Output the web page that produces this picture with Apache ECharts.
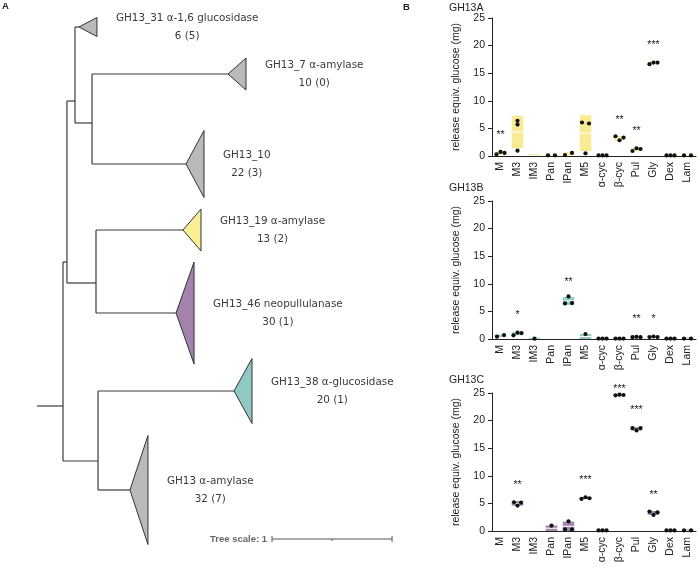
<!DOCTYPE html>
<html>
<head>
<meta charset="utf-8">
<style>
html, body { margin: 0; padding: 0; background: #fff; }
#main { width: 700px; height: 567px; }
</style>
<script src="https://cdn.jsdelivr.net/npm/echarts@6/dist/echarts.min.js"></script>
</head>
<body>
<div id="main"></div>
<script>
// ---- panel A: collapsed GH13 tree (depth in tree-scale units) ----
var treeNodes = [
    {id: 'root', parent: null, depth: 0, y: 406},
    {id: 'n1', parent: 'root', depth: 0.033, y: 262},
    {id: 'n2', parent: 'n1', depth: 0.1, y: 101},
    {id: 'n4', parent: 'n2', depth: 0.242, y: 123},
    {id: 'n3', parent: 'n1', depth: 0.275, y: 283},
    {id: 'n5', parent: 'root', depth: 0.292, y: 461}
];
var cladeNames = ['GH13_31 α-1,6 glucosidase', 'GH13_7 α-amylase', 'GH13_10', 'GH13_19 α-amylase',
    'GH13_46 neopullulanase', 'GH13_38 α-glucosidase', 'GH13 α-amylase'];
var cladeCounts = ['6 (5)', '10 (0)', '22 (3)', '13 (2)', '30 (1)', '20 (1)', '32 (7)'];
var cladeParent = ['n2', 'n4', 'n4', 'n3', 'n3', 'n5', 'n5'];
var cladeDepth = [0.133, 1.375, 1.025, 1.0, 0.942, 1.425, 0.558];
var cladeY = [27, 74, 164, 230, 313, 391, 490];
var cladeSpan = [19, 32, 67, 42, 102, 65, 109];
var rootStub = -0.217;
var treeScale = [1.742, 539];

// ---- panel B: released glucose equivalents (mg) ----
var categories = ['M', 'M3', 'IM3', 'Pan', 'IPan', 'M5', 'α-cyc', 'β-cyc', 'Pul', 'Gly', 'Dex', 'Lam'];
var yTicks = [0, 5, 10, 15, 20, 25];

var gh13aPoints = [[0.30, 0.73, 0.55], [6.37, 5.70, 0.97], [], [0.12, 0.12], [0.18, 0.55], [6.07, 5.89, 0.49],
    [0.1, 0.1, 0.1], [3.58, 2.85, 3.34], [0.91, 1.40, 1.27], [16.63, 16.93, 16.93], [0.1, 0.1, 0.1], [0.1, 0.1]];
var gh13aMean = [0.53, 4.35, 0.17, 0.12, 0.37, 4.15, 0.1, 3.26, 1.19, 16.83, 0.1, 0.1];
var gh13aSd = [0.22, 2.95, 0.04, 0, 0.26, 3.25, 0, 0.37, 0.25, 0.17, 0, 0];
var gh13aStars = [['M', '**', 4.2], ['β-cyc', '**', 7.0], ['Pul', '**', 4.9], ['Gly', '***', 20.6]];

var gh13bPoints = [[0.42, 0.72], [0.66, 1.14, 1.08], [0.06], [], [7.71, 6.45, 6.5], [0.9],
    [0.08, 0.08, 0.08], [0.08, 0.08, 0.08], [0.33, 0.4, 0.33], [0.35, 0.45, 0.35], [0.08, 0.08, 0.08], [0.08, 0.08]];
var gh13bMean = [0.57, 0.96, 0.06, 0, 6.89, 0.45, 0.08, 0.08, 0.35, 0.38, 0.08, 0.08];
var gh13bSd = [0.21, 0.26, 0, 0, 0.71, 0.45, 0, 0, 0.04, 0.06, 0, 0];
var gh13bStars = [['M3', '*', 4.8], ['IPan', '**', 10.7], ['Pul', '**', 4.0], ['Gly', '*', 4.0]];

var gh13cPoints = [[], [5.21, 4.6, 5.15], [], [0.97], [1.76, 0.3, 0.3], [5.81, 6.11, 5.93],
    [0.1, 0.1, 0.1], [24.58, 24.7, 24.64], [18.64, 18.22, 18.64], [3.51, 2.91, 3.39], [0.1, 0.1, 0.1], [0.1, 0.1]];
var gh13cMean = [0, 4.99, 0, 0.5, 0.85, 5.95, 0.1, 24.64, 18.5, 3.27, 0.1, 0.1];
var gh13cSd = [0, 0.4, 0, 0.5, 0.85, 0.15, 0, 0.06, 0.3, 0.35, 0, 0];
var gh13cStars = [['M3', '**', 8.7], ['M5', '***', 9.75], ['β-cyc', '***', 26.1], ['Pul', '***', 22.3], ['Gly', '**', 7.0]];

var panels = [
    {title: 'GH13A', points: gh13aPoints, mean: gh13aMean, sd: gh13aSd, stars: gh13aStars, color: '#f8eb94', top: 18, titleY: 8},
    {title: 'GH13B', points: gh13bPoints, mean: gh13bMean, sd: gh13bSd, stars: gh13bStars, color: '#8fcac4', top: 201, titleY: 188},
    {title: 'GH13C', points: gh13cPoints, mean: gh13cMean, sd: gh13cSd, stars: gh13cStars, color: '#a485b0', top: 393, titleY: 380}
];

var cladeColors = ['#bababa', '#bababa', '#bababa', '#fbef95', '#a382ac', '#90c9c3', '#bababa'];
var treeFont = '10.4px "DejaVu Sans"';
var plotFont = 'Liberation Sans';
var triWidth = 0.15;

var myChart = echarts.init(document.getElementById('main'));

var measure = document.createElement('canvas').getContext('2d');
measure.font = treeFont;

var nodeById = {};
treeNodes.forEach(function (n) { nodeById[n.id] = n; });
var treeItems = treeNodes.map(function (n) { return [n.depth, n.y, -1]; });
cladeNames.forEach(function (name, i) { treeItems.push([cladeDepth[i], cladeY[i], i]); });

function renderTree(params, api) {
    var k = api.value(2);
    var node = k < 0 ? treeNodes[params.dataIndex] : {parent: cladeParent[k], depth: cladeDepth[k], y: cladeY[k]};
    var lineStyle = {stroke: '#3b3b3b', lineWidth: 1.2};
    var kids = [];
    var p = api.coord([node.depth, node.y]);
    if (node.parent === null) {
        var s = api.coord([rootStub, node.y]);
        kids.push({type: 'line', shape: {x1: s[0], y1: s[1], x2: p[0], y2: p[1]}, style: lineStyle});
    } else {
        var par = nodeById[node.parent];
        var a = api.coord([par.depth, par.y]);
        var b = api.coord([par.depth, node.y]);
        kids.push({type: 'line', shape: {x1: a[0], y1: a[1], x2: b[0], y2: b[1]}, style: lineStyle});
        kids.push({type: 'line', shape: {x1: b[0], y1: b[1], x2: p[0], y2: p[1]}, style: lineStyle});
    }
    if (k >= 0) {
        var t1 = api.coord([node.depth + triWidth, node.y - cladeSpan[k] / 2]);
        var t2 = api.coord([node.depth + triWidth, node.y + cladeSpan[k] / 2]);
        kids.push({type: 'polygon', shape: {points: [p, t1, t2]},
            style: {fill: cladeColors[k], stroke: '#333', lineWidth: 1}});
        var w = measure.measureText(cladeNames[k]).width;
        var cx = t1[0] + 19 + w / 2;
        kids.push({type: 'text', style: {text: cladeNames[k], x: cx, y: p[1] - 9, align: 'center',
            verticalAlign: 'middle', font: treeFont, fill: '#3a3a3a'}});
        kids.push({type: 'text', style: {text: cladeCounts[k], x: cx, y: p[1] + 9, align: 'center',
            verticalAlign: 'middle', font: treeFont, fill: '#3a3a3a'}});
    }
    return {type: 'group', children: kids};
}

function renderScale(params, api) {
    var a = api.coord([api.value(0), api.value(1)]);
    var b = api.coord([api.value(0) + 1, api.value(1)]);
    var st = {stroke: '#555', lineWidth: 1};
    return {type: 'group', children: [
        {type: 'line', shape: {x1: a[0], y1: a[1], x2: b[0], y2: b[1]}, style: st},
        {type: 'line', shape: {x1: a[0], y1: a[1] - 3, x2: a[0], y2: a[1] + 3}, style: st},
        {type: 'line', shape: {x1: b[0], y1: b[1] - 3, x2: b[0], y2: b[1] + 3}, style: st},
        {type: 'line', shape: {x1: (a[0] + b[0]) / 2, y1: a[1], x2: (a[0] + b[0]) / 2, y2: a[1] + 2}, style: st},
        {type: 'text', style: {text: 'Tree scale: 1', x: a[0] - 5, y: a[1], align: 'right', verticalAlign: 'middle',
            font: 'bold 9.5px "Liberation Sans"', fill: '#666'}}
    ]};
}

function spread(vals) {
    var order = vals.map(function (v, i) { return i; }).sort(function (a, b) { return vals[a] - vals[b]; });
    var groups = [], cur = [];
    order.forEach(function (i) {
        if (cur.length && vals[i] - vals[cur[cur.length - 1]] > 0.5) { groups.push(cur); cur = []; }
        cur.push(i);
    });
    if (cur.length) groups.push(cur);
    var off = [];
    groups.forEach(function (g) {
        g.sort(function (a, b) { return a - b; });
        var step = g.length === 2 ? 7 : 4;
        g.forEach(function (i, j) { off[i] = (j - (g.length - 1) / 2) * step; });
    });
    return off;
}

var grids = [{left: 63, top: 0, width: 120, height: 567}];
var xAxes = [{type: 'value', gridIndex: 0, min: 0, max: 1, show: false}];
var yAxes = [{type: 'value', gridIndex: 0, min: 0, max: 567, inverse: true, show: false}];
var series = [
    {type: 'custom', xAxisIndex: 0, yAxisIndex: 0, renderItem: renderTree, data: treeItems, silent: true},
    {type: 'custom', xAxisIndex: 0, yAxisIndex: 0, renderItem: renderScale, data: [treeScale], silent: true}
];
var graphics = [
    {type: 'text', x: 2, y: 6, style: {text: 'A', font: 'bold 9.5px "Liberation Sans"', fill: '#222', verticalAlign: 'middle'}},
    {type: 'text', x: 403, y: 7, style: {text: 'B', font: 'bold 9.5px "Liberation Sans"', fill: '#222', verticalAlign: 'middle'}}
];

panels.forEach(function (pn, i) {
    var g = i + 1;
    grids.push({left: 492, top: pn.top, width: 204, height: 138});
    xAxes.push({
        type: 'category', gridIndex: g, data: categories,
        axisLine: {lineStyle: {color: '#222', width: 1}},
        axisTick: {alignWithLabel: true, length: 4, lineStyle: {color: '#222'}},
        axisLabel: {rotate: 90, interval: 0, margin: 6, fontSize: 10.5, color: '#222', fontFamily: plotFont},
        splitLine: {show: false}
    });
    yAxes.push({
        type: 'value', gridIndex: g, min: yTicks[0], max: yTicks[yTicks.length - 1], interval: yTicks[1] - yTicks[0],
        name: 'release equiv. glucose (mg)', nameLocation: 'middle', nameGap: 30,
        nameTextStyle: {fontSize: 10.5, color: '#222', fontFamily: plotFont},
        axisLine: {show: true, lineStyle: {color: '#222', width: 1}},
        axisTick: {show: true, length: 4, lineStyle: {color: '#222'}},
        axisLabel: {margin: 7, fontSize: 10.5, color: '#222', fontFamily: plotFont},
        splitLine: {show: false}
    });
    graphics.push({type: 'text', x: 449, y: pn.titleY, style: {text: pn.title, font: '10.5px "Liberation Sans"',
        fill: '#222', verticalAlign: 'middle'}});

    var barData = pn.mean.map(function (m, c) { return [c, m, pn.sd[c]]; });
    series.push({
        type: 'custom', xAxisIndex: g, yAxisIndex: g, silent: true, data: barData,
        renderItem: function (params, api) {
            var c = api.value(0), m = api.value(1), s = api.value(2);
            if (m + s <= 0) return null;
            var top = api.coord([c, m + s]);
            var bot = api.coord([c, Math.max(0, m - s)]);
            var mid = api.coord([c, m]);
            var w = api.size([1, 0])[0] * 0.68;
            var h = Math.max(bot[1] - top[1], 1);
            var kids = [{type: 'rect', shape: {x: top[0] - w / 2, y: bot[1] - h, width: w, height: h},
                style: {fill: pn.color}}];
            if (h > 4) {
                kids.push({type: 'line', shape: {x1: top[0] - w / 2, y1: mid[1], x2: top[0] + w / 2, y2: mid[1]},
                    style: {stroke: '#fff', lineWidth: 1}});
            }
            return {type: 'group', children: kids};
        }
    });

    var dotData = [];
    pn.points.forEach(function (vals, c) {
        var off = spread(vals);
        vals.forEach(function (v, j) { dotData.push([c, v, off[j]]); });
    });
    series.push({
        type: 'custom', xAxisIndex: g, yAxisIndex: g, silent: true, data: dotData,
        renderItem: function (params, api) {
            var pt = api.coord([api.value(0), api.value(1)]);
            return {type: 'circle', shape: {cx: pt[0] + api.value(2), cy: pt[1], r: 2.1}, style: {fill: '#111'}};
        }
    });

    var starData = pn.stars.map(function (s) { return [categories.indexOf(s[0]), s[2]]; });
    series.push({
        type: 'custom', xAxisIndex: g, yAxisIndex: g, silent: true, data: starData,
        renderItem: function (params, api) {
            var pt = api.coord([api.value(0), api.value(1)]);
            return {type: 'text', style: {text: pn.stars[params.dataIndex][1], x: pt[0], y: pt[1] + 2.5,
                align: 'center', verticalAlign: 'middle', font: '10.5px "Liberation Sans"', fill: '#222'}};
        }
    });
});

option = {
    animation: false,
    backgroundColor: '#fff',
    grid: grids,
    xAxis: xAxes,
    yAxis: yAxes,
    graphic: graphics,
    series: series
};

myChart.setOption(option);
</script>
</body>
</html>
